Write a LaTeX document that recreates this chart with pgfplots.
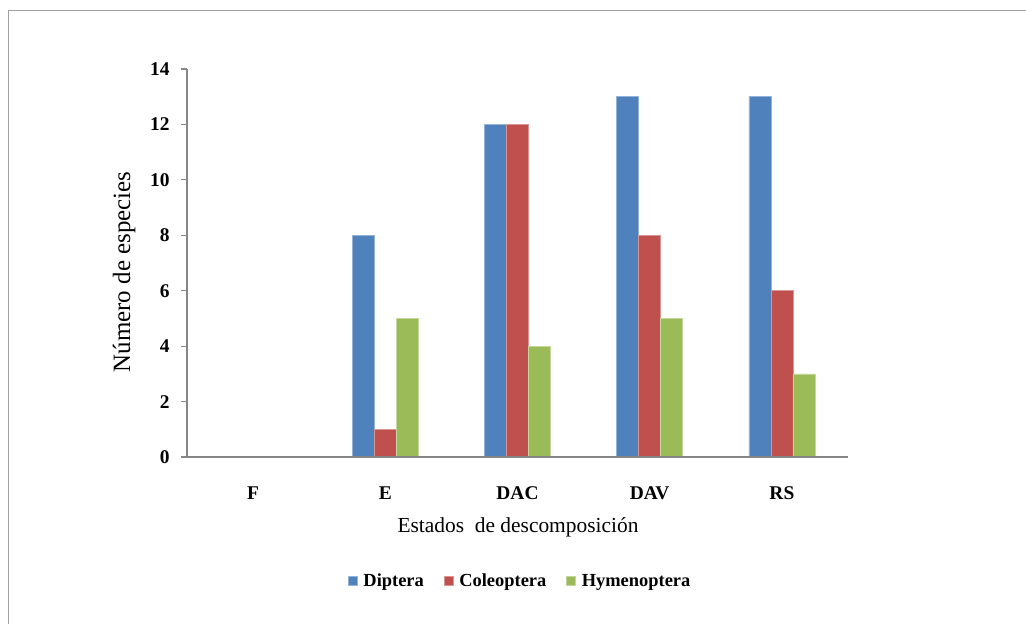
\documentclass[border=0pt]{standalone}
\usepackage{pgfplots}
\pgfplotsset{compat=1.18}
\usepackage{fontspec}
\setmainfont{Liberation Serif}
\definecolor{cB}{RGB}{79,129,189}
\definecolor{cR}{RGB}{192,80,77}
\definecolor{cG}{RGB}{155,187,89}
\definecolor{axgray}{RGB}{134,134,134}
\definecolor{framegray}{RGB}{160,160,160}
\begin{document}
\begin{tikzpicture}
\useasboundingbox (0bp,0bp) rectangle (1026bp,624bp);
\draw[framegray, line width=1bp] (8.5bp,-10bp) -- (8.5bp,613.5bp) -- (1040bp,613.5bp);
\begin{axis}[
  at={(187bp,167bp)}, anchor=south west,
  scale only axis, width=661bp, height=388bp,
  xmin=-0.5, xmax=4.5, ymin=0, ymax=14,
  ybar=0pt, bar width=22bp,
  axis on top,
  axis x line*=bottom, axis y line*=left,
  axis line style={draw=axgray, line width=1.4bp, -},
  xtick={0,1,2,3,4}, xticklabels={F,E,DAC,DAV,RS},
  xtick style={draw=none},
  ytick={0,2,4,6,8,10,12,14},
  ytick style={draw=axgray, line width=1.2bp},
  tick align=outside, major tick length=6bp,
  /pgf/number format/assume math mode=true,
  ticklabel style={font=\fontsize{19.5}{22}\selectfont\bfseries},
  xticklabel style={anchor=base, yshift=-36bp},
  yticklabel style={anchor=east, xshift=-8bp},
  xlabel={Estados\ \ de descomposición},
  ylabel={Número de especies},
  xlabel style={at={(axis description cs:0.5008,-0.18)}, anchor=center, font=\fontsize{21.5}{24}\selectfont},
  ylabel style={at={(axis description cs:-0.0953,0.477)}, anchor=center, font=\fontsize{25}{28}\selectfont},
  legend style={at={(axis description cs:0.504,-0.32)}, anchor=center, draw=none,
    font=\fontsize{18.5}{21}\selectfont\bfseries, legend columns=3,
    /tikz/every odd column/.append style={column sep=4bp},
    /tikz/every even column/.append style={column sep=18bp}},
  legend image code/.code={\fill[#1] (0bp,-4.5bp) rectangle (9bp,4.5bp);},
]
\addplot[fill=cB, draw=cB!60!white, line width=0.5bp] coordinates {(0,0) (1,8) (2,12) (3,13) (4,13)};
\addlegendentry{Diptera}
\addplot[fill=cR, draw=cR!60!white, line width=0.5bp] coordinates {(0,0) (1,1) (2,12) (3,8) (4,6)};
\addlegendentry{Coleoptera}
\addplot[fill=cG, draw=cG!60!white, line width=0.5bp] coordinates {(0,0) (1,5) (2,4) (3,5) (4,3)};
\addlegendentry{Hymenoptera}
\end{axis}
\end{tikzpicture}
\end{document}
